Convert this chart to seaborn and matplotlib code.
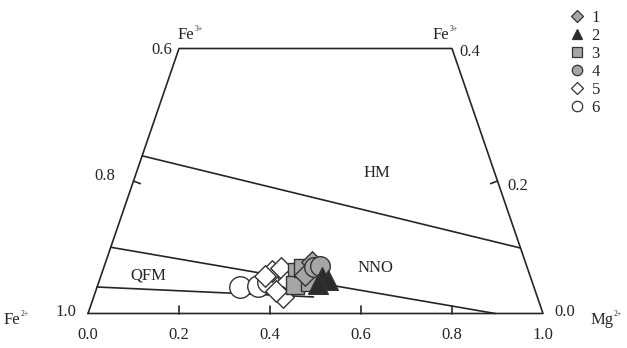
import numpy as np
import pandas as pd
import matplotlib
matplotlib.use("Agg")
import matplotlib.pyplot as plt
import seaborn as sns

# sample compositions (molar fractions Mg2+, Fe3+)
groups = ["1", "1", "2", "2", "2", "3", "3", "3", "3", "4", "4",
          "5", "5", "5", "5", "5", "5", "6", "6", "6"]
mg = [0.453, 0.448, 0.487, 0.502, 0.483, 0.428, 0.434, 0.438, 0.464, 0.462, 0.474,
      0.372, 0.390, 0.413, 0.416, 0.396, 0.361, 0.314, 0.353, 0.372]
fe3 = [0.078, 0.058, 0.055, 0.051, 0.045, 0.063, 0.043, 0.069, 0.048, 0.070, 0.072,
       0.064, 0.069, 0.048, 0.025, 0.034, 0.057, 0.040, 0.042, 0.048]

# buffer lines (start/end compositions: Mg2+, Fe3+)
buffers = {
    "HM":  ([0.0, 0.900], [0.238, 0.099]),
    "NNO": ([0.0, 0.895], [0.100, 0.0]),
    "QFM": ([0.0, 0.483], [0.040, 0.025]),
}
bottom_ticks = [0.0, 0.2, 0.4, 0.6, 0.8, 1.0]

def proj(m, f):
    m = np.asarray(m, float)
    f = np.asarray(f, float)
    return m + 0.5 * f, f

sns.set_style("white")
plt.rcParams['font.family'] = ['Liberation Serif', 'DejaVu Serif']

fig = plt.figure(figsize=(6.27, 3.48), dpi=100)
ax = fig.add_axes([0, 0, 1, 1])
ax.set_xlim(-88 / 455, 539 / 455)
ax.set_ylim(-34.5 / 662.5, 313.5 / 662.5)
ax.axis("off")

lc = "#262626"
lw = 1.2

# frame of the truncated ternary
ax.plot([0, 0.2, 0.8, 1.0, 0], [0, 0.4, 0.4, 0, 0], color=lc, lw=lw)

# buffers
for name, (m, f) in buffers.items():
    x, y = proj(m, f)
    ax.plot(x, y, color=lc, lw=lw)

# ticks
for t in bottom_ticks[1:-1]:
    ax.plot([t, t], [0, 0.012], color=lc, lw=lw)
ax.plot([0.1, 0.115], [0.2, 0.196], color=lc, lw=lw)
ax.plot([0.9, 0.885], [0.2, 0.196], color=lc, lw=lw)

# samples
x, y = proj(mg, fe3)
df = pd.DataFrame({"x": x, "y": y, "g": groups})
palette = {"1": "#a6a6a6", "2": "#2b2b2b", "3": "#a6a6a6",
           "4": "#a6a6a6", "5": "white", "6": "white"}
markers = {"1": "D", "2": "^", "3": "s", "4": "o", "5": "D", "6": "o"}
sizes = {"1": 120, "2": 200, "3": 150, "4": 200, "5": 120, "6": 240}
for g in ["6", "5", "3", "1", "4", "2"]:
    sub = df[df.g == g]
    sns.scatterplot(data=sub, x="x", y="y", color=palette[g], marker=markers[g],
                    s=sizes[g], edgecolor="#333333", linewidth=1.0, ax=ax, legend=False,
                    zorder=3)

handles = []
for g in ["1", "2", "3", "4", "5", "6"]:
    h = plt.Line2D([], [], ls="", marker=markers[g], markerfacecolor=palette[g],
                   markeredgecolor="#333333", markersize=7.5 if markers[g] != "D" else 6.5,
                   markeredgewidth=0.9, label=g)
    handles.append(h)
ax.legend(handles=handles, loc="upper left", bbox_to_anchor=(0.893, 0.99),
          frameon=False, fontsize=12, handletextpad=0.3, labelspacing=0.12,
          handlelength=1.2, borderaxespad=0)

fs = 12

def ion(xp, yp, base, sup, ha="left"):
    t = ax.annotate(base, (xp, yp), ha=ha, va="baseline", fontsize=fs)
    ax.annotate(sup, (1.0, 0.62), xycoords=t, ha="left", va="bottom", fontsize=5.5)

ion(0.197, 0.415, "Fe", "3+")
ion(0.758, 0.415, "Fe", "3+")
ion(-0.185, -0.016, "Fe", "2+")
ion(1.105, -0.016, "Mg", "2+")

ax.text(0.185, 0.398, "0.6", ha="right", va="center", fontsize=fs)
ax.text(0.817, 0.394, "0.4", ha="left", va="center", fontsize=fs)
ax.text(0.06, 0.208, "0.8", ha="right", va="center", fontsize=fs)
ax.text(0.922, 0.193, "0.2", ha="left", va="center", fontsize=fs)
ax.text(-0.025, 0.003, "1.0", ha="right", va="center", fontsize=fs)
ax.text(1.025, 0.003, "0.0", ha="left", va="center", fontsize=fs)
for t in bottom_ticks:
    ax.text(t, -0.032, f"{t:.1f}", ha="center", va="center", fontsize=fs)
ax.text(0.636, 0.212, "HM", ha="center", va="center", fontsize=fs)
ax.text(0.631, 0.068, "NNO", ha="center", va="center", fontsize=fs)
ax.text(0.132, 0.058, "QFM", ha="center", va="center", fontsize=fs)

fig.savefig("out.png", dpi=100)
